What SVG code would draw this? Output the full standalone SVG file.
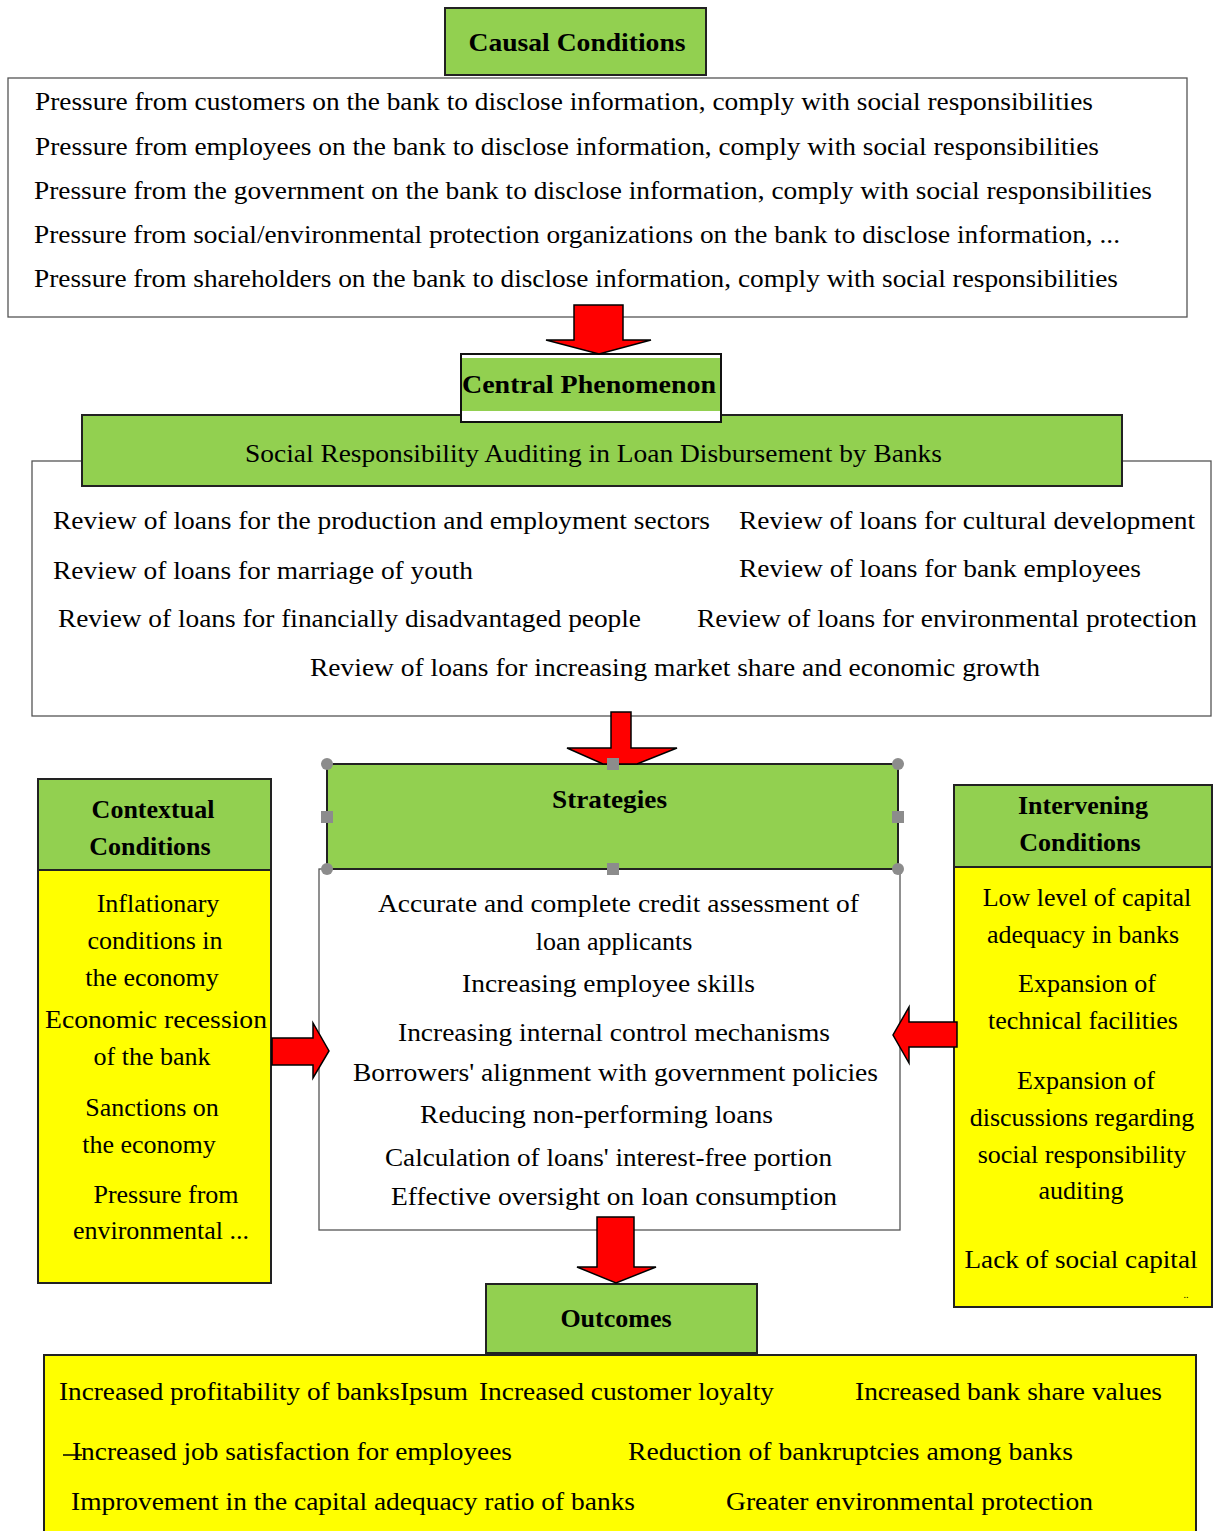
<svg xmlns="http://www.w3.org/2000/svg" width="1213" height="1531" viewBox="0 0 1213 1531">
<rect width="1213" height="1531" fill="#fff"/>

<g id="causal-title" font-size="26">
  <rect x="445" y="8" width="261" height="67" fill="#92D050" stroke="#222" stroke-width="2"/>
  <text font-family="Liberation Serif" font-weight="bold" text-anchor="middle" x="577" y="51" textLength="217" lengthAdjust="spacingAndGlyphs">Causal Conditions</text>
</g>

<g id="causal-list" font-size="26">
  <rect x="8" y="78" width="1179" height="239" fill="#fff" stroke="#555" stroke-width="1.3"/>
  <text font-family="Liberation Serif" x="35" y="110" textLength="1058" lengthAdjust="spacingAndGlyphs">Pressure from customers on the bank to disclose information, comply with social responsibilities</text>
  <text font-family="Liberation Serif" x="35" y="155" textLength="1064" lengthAdjust="spacingAndGlyphs">Pressure from employees on the bank to disclose information, comply with social responsibilities</text>
  <text font-family="Liberation Serif" x="34" y="199" textLength="1118" lengthAdjust="spacingAndGlyphs">Pressure from the government on the bank to disclose information, comply with social responsibilities</text>
  <text font-family="Liberation Serif" x="34" y="243" textLength="1086" lengthAdjust="spacingAndGlyphs">Pressure from social/environmental protection organizations on the bank to disclose information, ...</text>
  <text font-family="Liberation Serif" x="34" y="287" textLength="1084" lengthAdjust="spacingAndGlyphs">Pressure from shareholders on the bank to disclose information, comply with social responsibilities</text>
</g>

<g id="central-list" font-size="26">
  <rect x="32" y="461" width="1179" height="255" fill="#fff" stroke="#555" stroke-width="1.3"/>
  <text font-family="Liberation Serif" x="53" y="529" textLength="657" lengthAdjust="spacingAndGlyphs">Review of loans for the production and employment sectors</text>
  <text font-family="Liberation Serif" x="739" y="529" textLength="456" lengthAdjust="spacingAndGlyphs">Review of loans for cultural development</text>
  <text font-family="Liberation Serif" x="53" y="579" textLength="420" lengthAdjust="spacingAndGlyphs">Review of loans for marriage of youth</text>
  <text font-family="Liberation Serif" x="739" y="577" textLength="402" lengthAdjust="spacingAndGlyphs">Review of loans for bank employees</text>
  <text font-family="Liberation Serif" x="58" y="627" textLength="583" lengthAdjust="spacingAndGlyphs">Review of loans for financially disadvantaged people</text>
  <text font-family="Liberation Serif" x="697" y="627" textLength="500" lengthAdjust="spacingAndGlyphs">Review of loans for environmental protection</text>
  <text font-family="Liberation Serif" x="310" y="676" textLength="730" lengthAdjust="spacingAndGlyphs">Review of loans for increasing market share and economic growth</text>
</g>

<g id="central-band" font-size="26">
  <rect x="82" y="415" width="1040" height="71" fill="#92D050" stroke="#222" stroke-width="2"/>
  <text font-family="Liberation Serif" x="245" y="462" textLength="697" lengthAdjust="spacingAndGlyphs">Social Responsibility Auditing in Loan Disbursement by Banks</text>
</g>

<g id="central-title" font-size="26">
  <rect x="461" y="354" width="260" height="68" fill="#fff"/>
  <rect x="462" y="358" width="258" height="53" fill="#92D050"/>
  <rect x="461" y="354" width="260" height="68" fill="none" stroke="#111" stroke-width="2"/>
  <text font-family="Liberation Serif" font-weight="bold" x="462" y="393" textLength="254" lengthAdjust="spacingAndGlyphs">Central Phenomenon</text>
</g>

<g id="strategies-list" font-size="26">
  <rect x="319" y="869" width="581" height="361" fill="#fff" stroke="#555" stroke-width="1.3"/>
  <text font-family="Liberation Serif" x="378" y="912" textLength="481" lengthAdjust="spacingAndGlyphs">Accurate and complete credit assessment of</text>
  <text font-family="Liberation Serif" text-anchor="middle" x="614" y="950">loan applicants</text>
  <text font-family="Liberation Serif" x="462" y="992" textLength="293" lengthAdjust="spacingAndGlyphs">Increasing employee skills</text>
  <text font-family="Liberation Serif" x="398" y="1041" textLength="432" lengthAdjust="spacingAndGlyphs">Increasing internal control mechanisms</text>
  <text font-family="Liberation Serif" x="353" y="1081" textLength="525" lengthAdjust="spacingAndGlyphs">Borrowers' alignment with government policies</text>
  <text font-family="Liberation Serif" x="420" y="1123" textLength="353" lengthAdjust="spacingAndGlyphs">Reducing non-performing loans</text>
  <text font-family="Liberation Serif" x="385" y="1166" textLength="447" lengthAdjust="spacingAndGlyphs">Calculation of loans' interest-free portion</text>
  <text font-family="Liberation Serif" x="391" y="1205" textLength="446" lengthAdjust="spacingAndGlyphs">Effective oversight on loan consumption</text>
</g>

<g id="strategies" font-size="26">
  <rect x="327" y="764" width="571" height="105" fill="#92D050" stroke="#222" stroke-width="2"/>
  <text font-family="Liberation Serif" font-weight="bold" x="552" y="808" textLength="115" lengthAdjust="spacingAndGlyphs">Strategies</text>
</g>

<g id="contextual" font-size="26" text-anchor="middle">
  <rect x="38" y="870" width="233" height="413" fill="#FFFF00" stroke="#222" stroke-width="2"/>
  <rect x="38" y="779" width="233" height="91" fill="#92D050" stroke="#222" stroke-width="2"/>
  <text font-family="Liberation Serif" font-weight="bold" x="153" y="818">Contextual</text>
  <text font-family="Liberation Serif" font-weight="bold" x="150" y="855">Conditions</text>
  <text font-family="Liberation Serif" x="158" y="912">Inflationary</text>
  <text font-family="Liberation Serif" x="155" y="949">conditions in</text>
  <text font-family="Liberation Serif" x="152" y="986">the economy</text>
  <text font-family="Liberation Serif" x="156" y="1028" textLength="222" lengthAdjust="spacingAndGlyphs">Economic recession</text>
  <text font-family="Liberation Serif" x="152" y="1065">of the bank</text>
  <text font-family="Liberation Serif" x="152" y="1116">Sanctions on</text>
  <text font-family="Liberation Serif" x="149" y="1153">the economy</text>
  <text font-family="Liberation Serif" x="166" y="1203">Pressure from</text>
  <text font-family="Liberation Serif" x="161" y="1239">environmental ...</text>
</g>

<g id="intervening" font-size="26" text-anchor="middle">
  <rect x="954" y="867" width="258" height="440" fill="#FFFF00" stroke="#222" stroke-width="2"/>
  <rect x="954" y="785" width="258" height="82" fill="#92D050" stroke="#222" stroke-width="2"/>
  <text font-family="Liberation Serif" font-weight="bold" x="1083" y="814">Intervening</text>
  <text font-family="Liberation Serif" font-weight="bold" x="1080" y="851">Conditions</text>
  <text font-family="Liberation Serif" x="1087" y="906">Low level of capital</text>
  <text font-family="Liberation Serif" x="1083" y="943">adequacy in banks</text>
  <text font-family="Liberation Serif" x="1087" y="992">Expansion of</text>
  <text font-family="Liberation Serif" x="1083" y="1029">technical facilities</text>
  <text font-family="Liberation Serif" x="1086" y="1089">Expansion of</text>
  <text font-family="Liberation Serif" x="1082" y="1126">discussions regarding</text>
  <text font-family="Liberation Serif" x="1082" y="1163">social responsibility</text>
  <text font-family="Liberation Serif" x="1081" y="1199">auditing</text>
  <text font-family="Liberation Serif" x="1081" y="1268" textLength="233" lengthAdjust="spacingAndGlyphs">Lack of social capital</text>
  <text font-family="Liberation Serif" font-size="10" x="1186" y="1298">..</text>
</g>

<g id="outcomes-list" font-size="26">
  <rect x="44" y="1355" width="1152" height="185" fill="#FFFF00" stroke="#222" stroke-width="2"/>
  <text font-family="Liberation Serif" x="59" y="1400" textLength="409" lengthAdjust="spacingAndGlyphs">Increased profitability of banksIpsum</text>
  <text font-family="Liberation Serif" x="479" y="1400" textLength="295" lengthAdjust="spacingAndGlyphs">Increased customer loyalty</text>
  <text font-family="Liberation Serif" x="855" y="1400" textLength="307" lengthAdjust="spacingAndGlyphs">Increased bank share values</text>
  <line x1="63" y1="1455" x2="82" y2="1455" stroke="#000" stroke-width="1.5"/>
  <text font-family="Liberation Serif" x="72" y="1460" textLength="440" lengthAdjust="spacingAndGlyphs">Increased job satisfaction for employees</text>
  <text font-family="Liberation Serif" x="628" y="1460" textLength="445" lengthAdjust="spacingAndGlyphs">Reduction of bankruptcies among banks</text>
  <text font-family="Liberation Serif" x="71" y="1510" textLength="564" lengthAdjust="spacingAndGlyphs">Improvement in the capital adequacy ratio of banks</text>
  <text font-family="Liberation Serif" x="726" y="1510" textLength="367" lengthAdjust="spacingAndGlyphs">Greater environmental protection</text>
</g>

<g id="outcomes" font-size="26">
  <rect x="486" y="1284" width="271" height="69" fill="#92D050" stroke="#222" stroke-width="2"/>
  <text font-family="Liberation Serif" font-weight="bold" text-anchor="middle" x="616" y="1327">Outcomes</text>
</g>

<g id="connectors" fill="#FF0000" stroke="#000" stroke-width="1.5">
  <polygon points="574,305 623,305 623,340 651,340 599,354 546,340 574,340"/>
  <polygon points="611,712 631,712 631,748 677,748 637,764 603,764 567,748 611,748"/>
  <polygon points="272,1038 313,1038 313,1023 329,1051 313,1078 313,1065 272,1065"/>
  <polygon points="957,1022 909,1022 909,1007 893,1035 909,1063 909,1047 957,1047"/>
  <polygon points="597,1217 634,1217 634,1267 656,1267 616,1283 577,1267 597,1267"/>
</g>

<g id="selection-handles" fill="#8C8C8C">
  <circle cx="327" cy="764" r="6"/>
  <circle cx="898" cy="764" r="6"/>
  <circle cx="327" cy="869" r="6"/>
  <circle cx="898" cy="869" r="6"/>
  <rect x="607" y="758" width="12" height="12"/>
  <rect x="607" y="863" width="12" height="12"/>
  <rect x="321" y="811" width="12" height="12"/>
  <rect x="892" y="811" width="12" height="12"/>
</g>
</svg>
